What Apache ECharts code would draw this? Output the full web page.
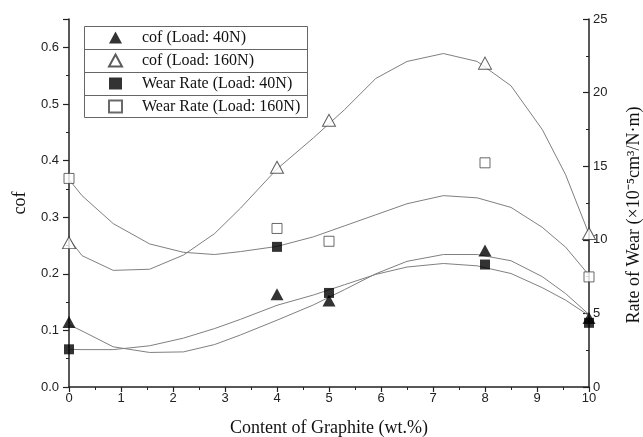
<!DOCTYPE html>
<html>
<head>
<meta charset="utf-8">
<script src="https://cdn.jsdelivr.net/npm/echarts@6/dist/echarts.min.js"></script>
<style>
html,body{margin:0;padding:0;background:#fff;}
#c{width:643px;height:437px;}
</style>
</head>
<body>
<div id="c"></div>
<script>
// Measured points
const xPts = [0, 4, 5, 8, 10];
const cof40 = [0.115, 0.164, 0.153, 0.241, 0.122];
const cof160 = [0.255, 0.388, 0.471, 0.572, 0.271];
const wear40 = [2.56, 9.52, 6.39, 8.32, 4.36];
const wear160 = [14.17, 10.77, 9.9, 15.23, 7.48];

// Fitted curves
const xFit = [0, 0.25, 0.85, 1.55, 2.2, 2.8, 3.3, 4, 4.7, 5.3, 5.9, 6.5, 7.2, 7.85, 8.5, 9.1, 9.55, 10];
const cof160Fit = [0.262, 0.232, 0.206, 0.208, 0.233, 0.271, 0.316, 0.385, 0.44, 0.49, 0.545, 0.575, 0.589, 0.575, 0.532, 0.455, 0.375, 0.27];
const wear160Fit = [14.1, 13.0, 11.1, 9.72, 9.15, 9.0, 9.2, 9.55, 10.2, 10.95, 11.7, 12.45, 13.0, 12.85, 12.2, 10.85, 9.5, 7.6];
const cof40Fit = [0.11, 0.099, 0.071, 0.061, 0.062, 0.075, 0.092, 0.118, 0.145, 0.172, 0.2, 0.222, 0.234, 0.234, 0.223, 0.195, 0.165, 0.128];
const wear40Fit = [2.56, 2.54, 2.54, 2.8, 3.32, 3.97, 4.6, 5.55, 6.25, 6.95, 7.65, 8.15, 8.39, 8.23, 7.71, 6.75, 5.9, 4.85];

const xTitle = 'Content of Graphite (wt.%)';
const yLeftTitle = 'cof';
const yRightTitle = 'Rate of Wear (×10⁻⁵cm³/N·m)';
const names = ['cof (Load: 40N)', 'cof (Load: 160N)', 'Wear Rate (Load: 40N)', 'Wear Rate (Load: 160N)'];

const zip = (xs, ys) => xs.map((x, i) => [x, ys[i]]);
const serif = 'Liberation Serif';
const sans = 'Liberation Sans';
const axisCol = '#222';
const fitCol = '#808080';

const chart = echarts.init(document.getElementById('c'), null, {renderer: 'canvas'});

function fitSeries(data, yIdx) {
  return {type: 'line', data: zip(xFit, data), yAxisIndex: yIdx, showSymbol: false, symbol: 'none',
    lineStyle: {color: fitCol, width: 1}, silent: true, z: 2, animation: false};
}

const option = {
  animation: false,
  backgroundColor: '#fff',
  grid: {left: 69, right: 54, top: 19, bottom: 50, containLabel: false, outerBoundsMode: 'none'},
  legend: {
    orient: 'vertical', left: 108, top: 29.5, padding: 0,
    itemWidth: 13, itemHeight: 12, itemGap: 7,
    symbolKeepAspect: true,
    data: names,
    textStyle: {fontFamily: serif, fontSize: 16, color: '#111', padding: [0, 0, 0, 15]},
    selectedMode: false
  },
  graphic: [
    {type: 'rect', shape: {x: 84.5, y: 26.5, width: 223, height: 91}, style: {fill: null, stroke: '#666', lineWidth: 1}, silent: true},
    {type: 'line', shape: {x1: 84.5, y1: 49.5, x2: 307.5, y2: 49.5}, style: {stroke: '#666', lineWidth: 1}, silent: true},
    {type: 'line', shape: {x1: 84.5, y1: 72.5, x2: 307.5, y2: 72.5}, style: {stroke: '#666', lineWidth: 1}, silent: true},
    {type: 'line', shape: {x1: 84.5, y1: 95.5, x2: 307.5, y2: 95.5}, style: {stroke: '#666', lineWidth: 1}, silent: true}
  ],
  xAxis: {
    type: 'value', min: 0, max: 10, interval: 1,
    name: xTitle, nameLocation: 'middle', nameGap: 32,
    nameTextStyle: {fontFamily: serif, fontSize: 18, color: '#111'},
    axisLine: {onZero: false, lineStyle: {color: axisCol, width: 1.5}},
    axisTick: {inside: false, length: 5, lineStyle: {color: axisCol, width: 1.2}},
    minorTick: {show: true, splitNumber: 2, length: 3, lineStyle: {color: axisCol, width: 1}},
    axisLabel: {fontFamily: sans, fontSize: 13, color: '#222', margin: 5},
    splitLine: {show: false}
  },
  yAxis: [
    {
      type: 'value', position: 'left', min: 0, max: 0.65, interval: 0.1,
      name: yLeftTitle, nameLocation: 'middle', nameGap: 40, nameRotate: 90,
      nameTextStyle: {fontFamily: serif, fontSize: 18, color: '#111'},
      axisLine: {show: true, onZero: false, lineStyle: {color: axisCol, width: 1.5}},
      axisTick: {show: true, inside: false, length: 6, lineStyle: {color: axisCol, width: 1.2}},
      minorTick: {show: true, splitNumber: 2, length: 3, lineStyle: {color: axisCol, width: 1}},
      axisLabel: {fontFamily: sans, fontSize: 13, color: '#222', margin: 10,
        formatter: v => (Math.abs(v - 0.65) < 1e-6 ? '' : v.toFixed(1))},
      splitLine: {show: false}
    },
    {
      type: 'value', position: 'right', min: 0, max: 25, interval: 5,
      name: yRightTitle, nameLocation: 'middle', nameGap: 36, nameRotate: 90,
      nameTextStyle: {fontFamily: serif, fontSize: 18, color: '#111', padding: [0, 24, 0, 0]},
      axisLine: {show: true, onZero: false, lineStyle: {color: axisCol, width: 1.5}},
      axisTick: {show: true, inside: true, length: 6, lineStyle: {color: axisCol, width: 1.2}},
      minorTick: {show: true, splitNumber: 2, length: 3, lineStyle: {color: axisCol, width: 1}},
      axisLabel: {fontFamily: sans, fontSize: 13, color: '#222', margin: 4},
      splitLine: {show: false}
    }
  ],
  series: [
    fitSeries(cof160Fit, 0),
    fitSeries(wear160Fit, 1),
    fitSeries(cof40Fit, 0),
    fitSeries(wear40Fit, 1),
    {name: names[0], type: 'scatter', yAxisIndex: 0, data: zip(xPts, cof40), symbol: 'triangle', symbolSize: [13, 12],
      itemStyle: {color: '#000', borderColor: '#000', borderWidth: 0}, z: 5},
    {name: names[1], type: 'scatter', yAxisIndex: 0, data: zip(xPts, cof160), symbol: 'triangle', symbolSize: [13, 12],
      itemStyle: {color: '#fff', borderColor: '#333', borderWidth: 1}, z: 5},
    {name: names[2], type: 'scatter', yAxisIndex: 1, data: zip(xPts, wear40), symbol: 'rect', symbolSize: 10,
      itemStyle: {color: '#000', borderColor: '#000', borderWidth: 0}, z: 5},
    {name: names[3], type: 'scatter', yAxisIndex: 1, data: zip(xPts, wear160), symbol: 'rect', symbolSize: 10,
      itemStyle: {color: '#fff', borderColor: '#444', borderWidth: 1}, z: 5}
  ]
};
chart.setOption(option);
</script>
</body>
</html>
